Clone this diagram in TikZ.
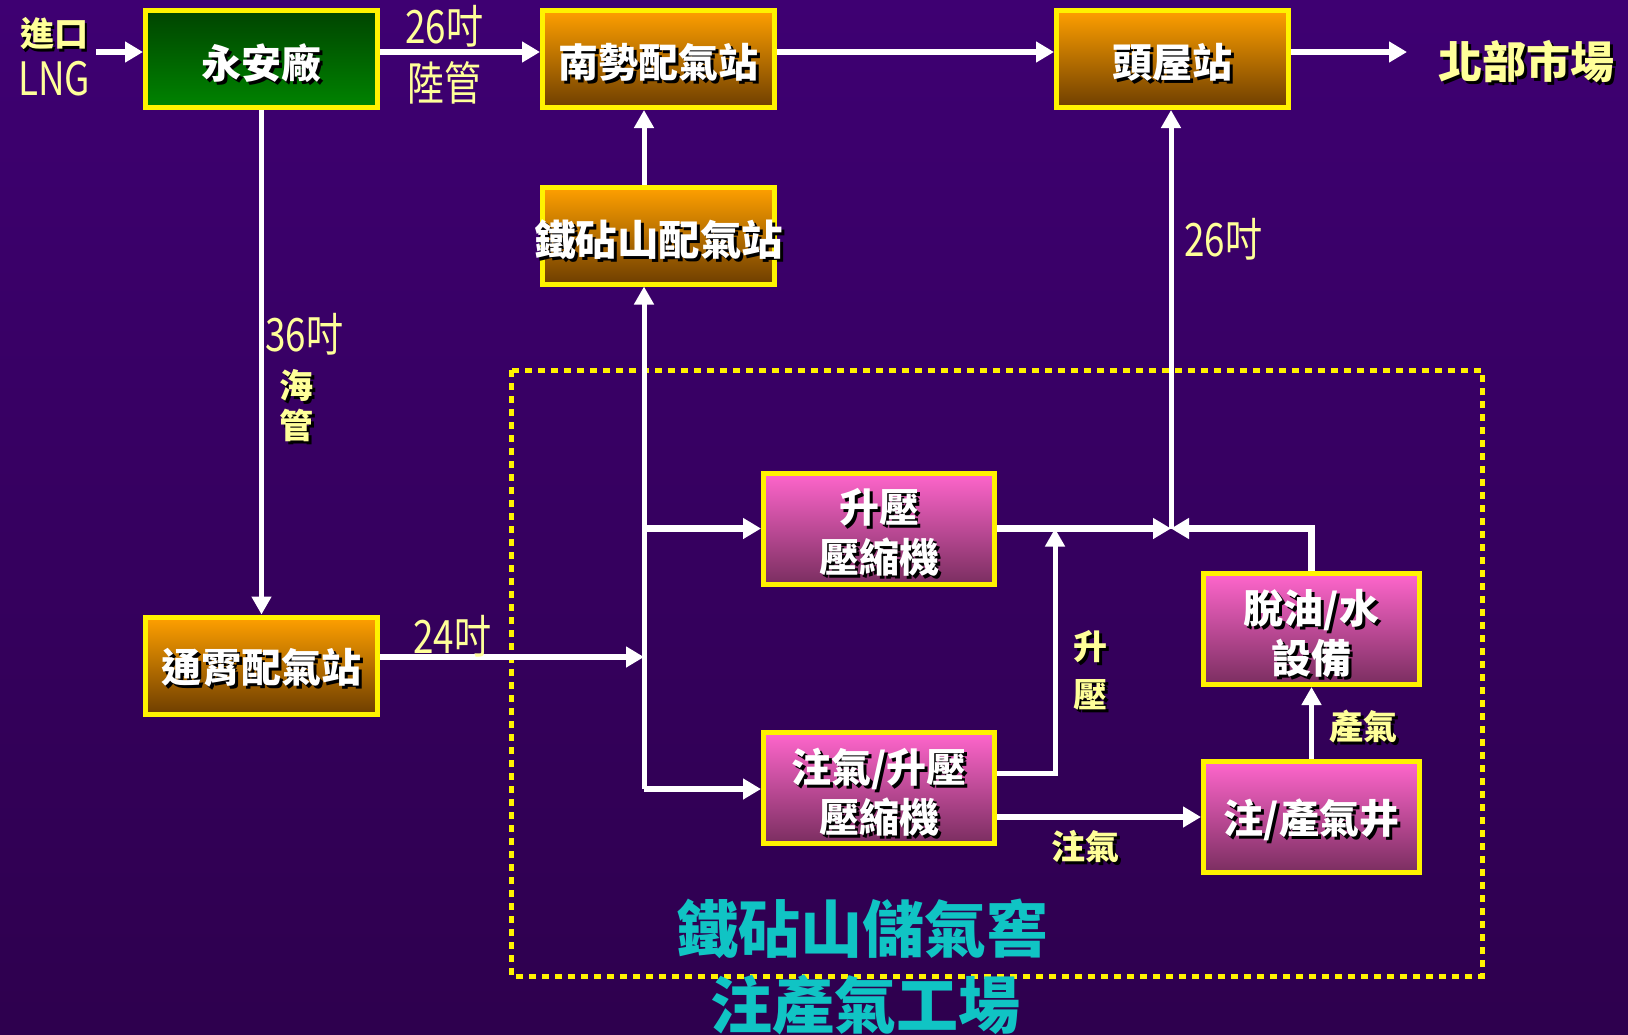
\documentclass[tikz,border=0pt]{standalone}
\usepackage{fontspec}
\newfontfamily\cjk{Noto Sans CJK TC}
\newfontfamily\cjkn[FakeStretch=0.8]{Noto Sans CJK TC}
\usetikzlibrary{arrows.meta}
\definecolor{bgtop}{HTML}{3E0072}
\definecolor{bgmid}{HTML}{4E008E}
\definecolor{bgbot}{HTML}{2E004E}
\definecolor{lyel}{HTML}{FFFF99}
\definecolor{cyantxt}{HTML}{10C4C4}
\definecolor{orgtop}{HTML}{FFA000}
\definecolor{orgbot}{HTML}{6E3E00}
\definecolor{grntop}{HTML}{004400}
\definecolor{grnbot}{HTML}{008400}
\definecolor{pnktop}{HTML}{FF66CC}
\definecolor{pnkbot}{HTML}{7A2E60}
\newcommand\shtext[4]{%
  \node[#3, text=black] at ([shift={(3,3)}]#2) {#4};
  \node[#3] (#1) at (#2) {#4};}
\begin{document}
\begin{tikzpicture}[x=1pt,y=-1pt,
  boxbase/.style={draw=yellow, line width=5pt, inner sep=0pt},
  orangebox/.style={boxbase, top color=orgtop, bottom color=orgbot, minimum width=232pt, minimum height=97pt},
  greenbox/.style={boxbase, top color=grntop, bottom color=grnbot, minimum width=232pt, minimum height=97pt},
  pinkbox/.style={boxbase, top color=pnktop, bottom color=pnkbot, minimum width=#1, minimum height=111pt},
  boxtxt/.style={text=white, font=\cjk\bfseries\fontsize{40}{50}\selectfont, align=center, inner sep=0pt},
  widetxt/.style={boxtxt, font=\cjk\bfseries\fontsize{41.5}{50}\selectfont},
  lbl/.style={text=lyel, font=\cjkn\fontsize{46}{50}\selectfont, inner sep=0pt},
  blbl/.style={text=lyel, font=\cjk\bfseries\fontsize{34}{40}\selectfont, align=center, inner sep=0pt},
  bigtxt/.style={text=cyantxt, font=\cjk\bfseries\fontsize{62}{66}\selectfont, inner sep=0pt},
  arr/.style={draw=white, line width=6.5pt, -{Triangle[length=18pt,width=20pt]}},
  varr/.style={draw=white, line width=5pt, -{Triangle[length=18pt,width=19pt]}}
]
\useasboundingbox (0,0) rectangle (1628,1034);
\shade[top color=bgtop, middle color=bgmid, bottom color=bgbot] (0,0) rectangle (1628,1034);

% dotted enclosure
\draw[yellow, line width=5pt, dash pattern=on 7pt off 6pt] (511,370) rectangle (1482,976);

% boxes
\node[greenbox] (yaf) at (261.5,59) {};
\node[orangebox] (ns) at (658.5,59) {};
\node[orangebox] (tw) at (1172.5,59) {};
\node[orangebox] (tzs) at (658.5,235.5) {};
\node[orangebox] (tx) at (261.5,665.5) {};
\node[pinkbox=231pt] (sy) at (879,528.5) {};
\node[pinkbox=231pt] (zs) at (879,788) {};
\node[pinkbox=216pt] (ty) at (1311.5,629) {};
\node[pinkbox=216pt] (jing) at (1311.5,817) {};

\shtext{yaf-t}{261.5,63}{boxtxt}{永安廠}
\shtext{ns-t}{658.5,62}{boxtxt}{南勢配氣站}
\shtext{tw-t}{1172.5,62}{boxtxt}{頭屋站}
\shtext{tzs-t}{658.5,239.5}{widetxt}{鐵砧山配氣站}
\shtext{tx-t}{261.5,668}{boxtxt}{通霄配氣站}
\shtext{sy-t}{879,532.5}{boxtxt}{升壓\\壓縮機}
\shtext{zs-t}{879,792}{boxtxt}{注氣/升壓\\壓縮機}
\shtext{ty-t}{1311.5,633}{boxtxt}{脫油/水\\設備}
\shtext{jing-t}{1311.5,820}{boxtxt}{注/產氣井}

% coordinates
\coordinate (row) at (0,52);
\coordinate (inL) at (96,52);
\coordinate (mkt) at (1407,52);
\coordinate (vx) at (644,0);
\coordinate (jv) at (644,657);
\coordinate (vbot) at (644,789);
\coordinate (b1) at (644,528.5);
\coordinate (jc) at (1171,528.5);
\coordinate (up1) at (1055,773);
\coordinate (inj) at (0,817);

% connectors
\draw[arr] (inL) -- (inL -| yaf.west);
\draw[arr] (yaf.east |- row) -- (ns.west |- row);
\draw[arr] (ns.east |- row) -- (tw.west |- row);
\draw[arr] (tw.east |- row) -- (mkt);
\draw[varr] (tzs.north -| vx) -- (ns.south -| vx);
\draw[varr] (yaf.south) -- (tx.north);
\draw[varr] (vbot) -- (tzs.south -| vbot);
\draw[arr] (tx.east |- jv) -- (jv);
\draw[arr] (b1) -- (sy.west);
\draw[arr] (vbot) -- (vbot -| zs.west);
\draw[arr] (sy.east) -- (jc);
\draw[varr] (jc) -- (jc |- tw.south);
\draw[varr] (zs.east |- up1) -- (up1) -- (up1 |- jc);
\draw[arr] (zs.east |- inj) -- (jing.west |- inj);
\draw[varr] (jing.north) -- (ty.south);
\draw[arr] (ty.north) -- (ty.north |- jc) -- (jc);

% labels
\node[lbl] (l26a) at (444,26) {26吋};
\node[lbl] (llg) at (444,83) {陸管};
\node[lbl] (l36) at (304,334) {36吋};
\shtext{lhg}{296,406}{blbl}{海\\管}
\node[lbl] (l24) at (452,636) {24吋};
\node[lbl] (l26b) at (1223,239) {26吋};
\shtext{lsy}{1090,670}{blbl, font=\cjk\bfseries\fontsize{34}{48}\selectfont}{升\\壓}
\shtext{lzq}{1085,846}{blbl}{注氣}
\shtext{lcq}{1363,727}{blbl}{產氣}
\shtext{ljk}{54,34}{blbl, font=\cjk\bfseries\fontsize{34}{36}\selectfont}{進口}
\node[lbl] (llng) at (54,79) {LNG};
\shtext{lbm}{1526,62}{blbl, font=\cjk\bfseries\fontsize{44}{48}\selectfont}{北部市場}
\node[bigtxt] (t1) at (862,929) {鐵砧山儲氣窖};
\node[bigtxt] (t2) at (865,1005) {注產氣工場};
\end{tikzpicture}
\end{document}
